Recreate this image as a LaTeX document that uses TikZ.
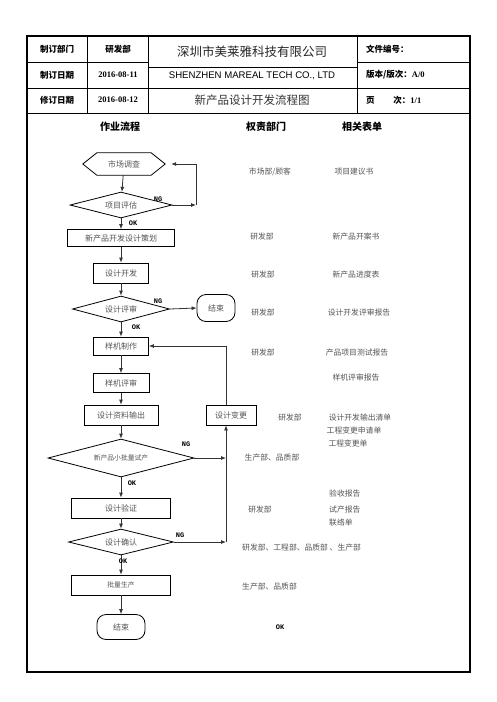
\documentclass[tikz,border=0pt]{standalone}
\usepackage{fontspec}
\setmainfont{Liberation Serif}
\newfontfamily\cjk{Noto Sans CJK SC}
\newfontfamily\arial{Liberation Sans}
\newfontfamily\mono{Liberation Mono}
\newfontfamily\tnr{Liberation Serif}
\usetikzlibrary{shapes.geometric,arrows.meta,calc}
\definecolor{txtgray}{HTML}{555555}
\definecolor{linegray}{HTML}{333333}
\tikzset{
  ftxt/.style={font=\cjk\fontsize{8}{9}\selectfont, text=txtgray},
  smalltxt/.style={font=\cjk\fontsize{6.8}{8}\selectfont, text=txtgray},
  rtxt/.style={font=\cjk\fontsize{7.8}{9}\selectfont, text=txtgray, inner sep=0},
  hdr/.style={font=\cjk\bfseries\fontsize{8.5}{10}\selectfont, text=black, inner sep=0},
  colhdr/.style={font=\cjk\bfseries\fontsize{10}{12}\selectfont, text=black, inner sep=0},
  datetxt/.style={font=\bfseries\fontsize{8.5}{10}\selectfont, inner sep=0},
  tag/.style={font=\mono\bfseries\fontsize{7}{8}\selectfont, inner sep=0},
  procbox/.style n args={2}{draw=black, line width=0.8pt, minimum width=#1, minimum height=#2, inner sep=0, ftxt},
  dia/.style n args={2}{diamond, draw=black, line width=0.8pt, minimum width=#1, minimum height=#2, inner sep=0, aspect=4, ftxt},
  endbox/.style n args={2}{draw=black, line width=0.8pt, rounded corners=9pt, minimum width=#1, minimum height=#2, inner sep=0, ftxt},
  flow/.style={draw=linegray, line width=0.8pt, -{Latex[length=5pt,width=4pt]}},
  plain/.style={draw=linegray, line width=0.8pt},
  grid/.style={draw=black, line width=0.9pt},
}
\begin{document}
\begin{tikzpicture}[x=1pt,y=-1pt]
\useasboundingbox (0,0) rectangle (496,702);
\fill[white] (0,0) rectangle (496,702);

% outer frame and header table
\draw[draw=black, line width=2pt] (27,36) rectangle (470,672);
\draw[grid] (27,62) -- (148,62);
\draw[grid] (357,62) -- (470,62);
\draw[grid] (148,67) -- (357,67);
\draw[grid] (27,88) -- (470,88);
\draw[grid] (27,113) -- (470,113);
\draw[grid] (87,36) -- (87,113);
\draw[grid] (148,36) -- (148,113);
\draw[grid] (357,36) -- (357,113);

\node[hdr] (h11) at (57,49) {制订部门};
\node[hdr] (h12) at (118,49) {研发部};
\node[hdr] (h21) at (57,75) {制订日期};
\node[datetxt] (h22) at (118,75) {2016-08-11};
\node[hdr] (h31) at (57,100) {修订日期};
\node[datetxt] (h32) at (118,100) {2016-08-12};
\node[font=\cjk\fontsize{12.5}{14}\selectfont, text=black!85, inner sep=0] (comp) at (252,52) {深圳市美莱雅科技有限公司};
\node[font=\arial\fontsize{9.6}{11}\selectfont, inner sep=0] (compen) at (252,76) {SHENZHEN MAREAL TECH CO., LTD};
\node[font=\cjk\fontsize{11.5}{13}\selectfont, text=black!80, inner sep=0] (title) at (252,100) {新产品设计开发流程图};
\node[hdr, anchor=west] (h14) at (366,49) {文件编号：};
\node[hdr, anchor=west] (h24) at (366,75) {版本/版次：{\tnr\bfseries A/0}};
\node[hdr, anchor=west] (h34) at (366,100) {页\hspace{2.2em}次：{\tnr\bfseries 1/1}};

% column headers
\node[colhdr] (ch1) at (120,127) {作业流程};
\node[colhdr] (ch2) at (266,127) {权责部门};
\node[colhdr] (ch3) at (362,127) {相关表单};

% flow nodes
\node[ftxt, minimum width=82, minimum height=22, inner sep=0] (s1) at (124,164) {市场调查};
\draw[draw=black, line width=0.8pt] (s1.west) -- ($(s1.north west)+(14,0)$) -- ($(s1.north east)+(-14,0)$) -- (s1.east) -- ($(s1.south east)+(-14,0)$) -- ($(s1.south west)+(14,0)$) -- cycle;
\node[dia={102}{26}] (d1) at (121,205) {项目评估};
\node[procbox={107}{17}] (b1) at (121,238) {新产品开发设计策划};
\node[procbox={55}{20}] (b2) at (121,273) {设计开发};
\node[dia={97}{26}] (d2) at (121,309) {设计评审};
\node[endbox={38}{27}] (e1) at (216,308) {结束};
\node[procbox={55}{18}] (b3) at (121,346) {样机制作};
\node[procbox={56}{19}] (b4) at (121,383) {样机评审};
\node[procbox={74}{20}] (b5) at (121,415) {设计资料输出};
\node[procbox={50}{20}] (b6) at (231,415) {设计变更};
\node[dia={146}{38}, smalltxt] (d3) at (121,458) {新产品小批量试产};
\node[procbox={99}{20}] (b7) at (121,508) {设计验证};
\node[dia={105}{26}] (d4) at (121,542) {设计确认};
\node[procbox={99}{20}, smalltxt] (b8) at (121,585) {批量生产};
\node[endbox={48}{25}] (e2) at (121,627) {结束};

% main chain
\draw[flow] (s1) -- (d1);
\draw[flow] (d1) -- (b1);
\draw[flow] (b1) -- (b2);
\draw[flow] (b2) -- (d2);
\draw[flow] (d2) -- (b3);
\draw[flow] (b3) -- (b4);
\draw[flow] (b4) -- (b5);
\draw[flow] (b5) -- (d3);
\draw[flow] (d3) -- (b7);
\draw[flow] (b7) -- (d4);
\draw[flow] (d4) -- (b8);
\draw[flow] (b8) -- (e2);

% loops
\coordinate (c1) at (196,205);
\draw[flow] (d1.east) -- (c1);
\draw[flow, shorten >=6pt] (c1) |- (s1.east);
\draw[flow] (d2.east) -- (e1.west);
\coordinate (vx) at (226,0);
\coordinate (j3) at (vx |- d3.east);
\coordinate (j4) at (vx |- d4.east);
\draw[flow] (b6.north -| vx) |- (b3.east);
\draw[flow] (d3.east) -- (j3);
\draw[flow] (d4.east) -- (j4);
\draw[flow] (j4) -- (b6.south -| vx);

% tags
\node[tag] (ng1) at (158,199) {NG};
\node[tag] (ok1) at (133,223) {OK};
\node[tag] (ng2) at (158,301) {NG};
\node[tag] (ok2) at (136,327) {OK};
\node[tag] (ng3) at (186,444) {NG};
\node[tag] (ok3) at (132,483) {OK};
\node[tag] (ng4) at (180,535) {NG};
\node[tag] (ok4) at (123,561) {OK};
\node[tag] (ok5) at (280,627) {OK};

% right columns
\node[rtxt] (r1a) at (270,172) {市场部/顾客};
\node[rtxt] (r1b) at (354,172) {项目建议书};
\node[rtxt] (r2a) at (262,237) {研发部};
\node[rtxt] (r2b) at (356,237) {新产品开案书};
\node[rtxt] (r3a) at (263,275) {研发部};
\node[rtxt] (r3b) at (356,275) {新产品进度表};
\node[rtxt] (r4a) at (263,313) {研发部};
\node[rtxt] (r4b) at (359,313) {设计开发评审报告};
\node[rtxt] (r5a) at (263,353) {研发部};
\node[rtxt] (r5b) at (357,353) {产品项目测试报告};
\node[rtxt] (r6b) at (356,378) {样机评审报告};
\node[rtxt] (r7a) at (290,418) {研发部};
\node[rtxt] (r7b) at (360,418) {设计开发输出清单};
\node[rtxt] (r7c) at (354,431) {工程变更申请单};
\node[rtxt] (r7d) at (348,444) {工程变更单};
\node[rtxt] (r8a) at (272,458) {生产部、品质部};
\node[rtxt, anchor=west] (r9b) at (329,494) {验收报告};
\node[rtxt, anchor=west] (r9c) at (329,510) {试产报告};
\node[rtxt, anchor=west] (r9d) at (329,523) {联络单};
\node[rtxt] (r9a) at (260,510) {研发部};
\node[rtxt, anchor=west] (r10a) at (242,548) {研发部、工程部、品质部 、生产部};
\node[rtxt, anchor=west] (r11a) at (242,587) {生产部、品质部};
\end{tikzpicture}
\end{document}
